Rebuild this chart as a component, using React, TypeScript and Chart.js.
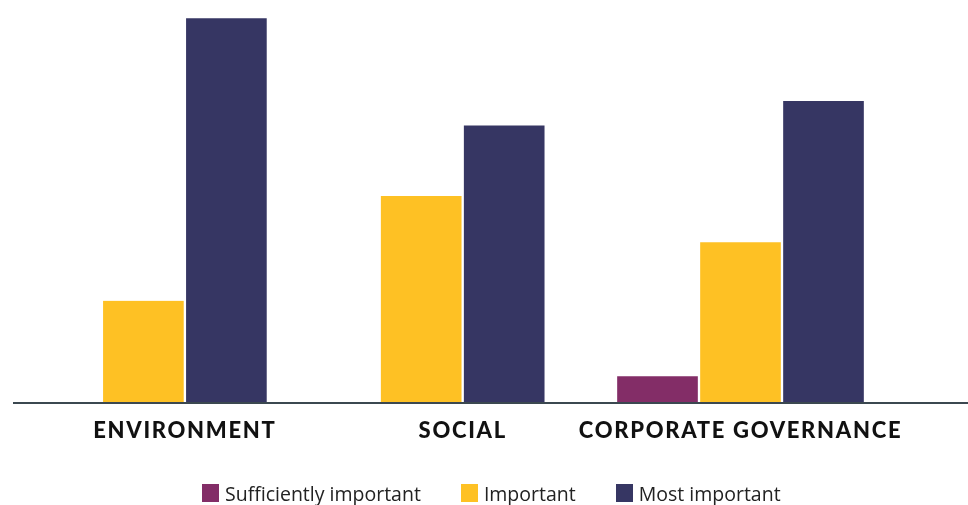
import React, { useEffect, useRef } from 'react';
import { Chart, registerables } from 'chart.js';

Chart.register(...registerables);

const categories = ['ENVIRONMENT', 'SOCIAL', 'CORPORATE GOVERNANCE'];
const seriesNames = ['Sufficiently important', 'Important', 'Most important'];
const sufficientlyImportant: (number | null)[] = [null, null, 5.5];
const important: (number | null)[] = [21, 42.5, 33];
const mostImportant: (number | null)[] = [79, 57, 62];
const seriesColors = ['#832d67', '#fec124', '#363663'];
const yMin = 0;
const yMax = 80;

const baselinePlugin = {
  id: 'fullBaseline',
  beforeDraw(chart: any) {
    chart.ctx.letterSpacing = '1.7px';
  },
  afterDatasetsDraw(chart: any) {
    const { ctx } = chart;
    const y = chart.scales.y.getPixelForValue(0);
    ctx.save();
    ctx.strokeStyle = '#3b4850';
    ctx.lineWidth = 2;
    ctx.beginPath();
    ctx.moveTo(13, y);
    ctx.lineTo(chart.width, y);
    ctx.stroke();
    ctx.restore();
  },
  afterDraw(chart: any) {
    chart.ctx.letterSpacing = '0px';
  },
};

export default function App() {
  const canvasRef = useRef<HTMLCanvasElement | null>(null);

  useEffect(() => {
    if (!canvasRef.current) return;
    const seriesData = [sufficientlyImportant, important, mostImportant];
    const chart = new Chart(canvasRef.current, {
      type: 'bar',
      data: {
        labels: categories,
        datasets: seriesNames.map((name, i) => ({
          label: name,
          data: seriesData[i],
          backgroundColor: seriesColors[i],
          borderColor: '#ffffff',
          borderWidth: { left: 1.5, right: 1.5, top: 0, bottom: 0 },
          borderSkipped: false,
          barThickness: 83,
          skipNull: true,
        })),
      },
      options: {
        animation: false,
        responsive: true,
        maintainAspectRatio: false,
        layout: { padding: { left: 46, right: 88.6, top: 13.4, bottom: 0 } },
        plugins: { legend: { display: false }, tooltip: { enabled: false } },
        scales: {
          x: {
            grid: { display: false, drawTicks: false },
            border: { display: false },
            ticks: {
              color: '#111111',
              padding: 15,
              maxRotation: 0,
              autoSkip: false,
              font: { family: 'Lato', weight: '900', size: 22 },
            },
            afterFit: (scale: any) => {
              scale.height = 102;
            },
          },
          y: { display: false, min: yMin, max: yMax },
        },
      },
      plugins: [baselinePlugin],
    } as any);
    return () => chart.destroy();
  }, []);

  return (
    <div style={{ position: 'absolute', left: 0, top: 0, width: 968, height: 505, background: '#ffffff' }}>
      <div style={{ position: 'absolute', left: 0, top: 0, width: 968, height: 505 }}>
        <canvas ref={canvasRef} />
      </div>
      <div
        style={{
          position: 'absolute',
          left: 202,
          top: 484,
          display: 'flex',
          alignItems: 'flex-start',
          fontFamily: '"Open Sans", sans-serif',
          fontSize: 19.5,
          lineHeight: '18px',
          color: '#222222',
          whiteSpace: 'nowrap',
        }}
      >
        {seriesNames.map((name, i) => (
          <div key={name} style={{ display: 'flex', alignItems: 'flex-start', marginRight: 40 }}>
            <div style={{ width: 17, height: 18, background: seriesColors[i], marginRight: 6 }} />
            <span style={{ marginTop: 1 }}>{name}</span>
          </div>
        ))}
      </div>
    </div>
  );
}
